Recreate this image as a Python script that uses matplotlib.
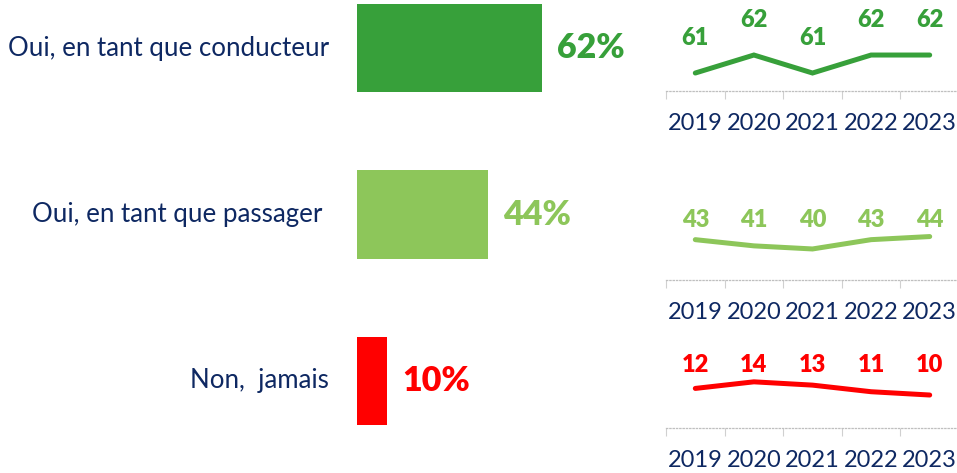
import matplotlib.pyplot as plt

plt.rcParams['font.family'] = ['Lato', 'DejaVu Sans']

# Données
categories = ["Oui, en tant que conducteur", "Oui, en tant que passager ", "Non,  jamais"]
current = [62, 44, 10]
years = ["2019", "2020", "2021", "2022", "2023"]
conducteur = [61, 62, 61, 62, 62]
passager = [43, 41, 40, 43, 44]
jamais = [12, 14, 13, 11, 10]

colors = ["#37A03A", "#8DC65A", "#FF0000"]
navy = "#0E2862"

W, H = 957, 473
fig = plt.figure(figsize=(W / 100, H / 100), dpi=100)


def rect(left, top, width, height):
    # coordonnées en pixels -> fraction de figure
    return [left / W, 1 - (top + height) / H, width / W, height / H]


# Barres à gauche
ax = fig.add_axes(rect(357, -35, 300, 499))
ax.barh(range(len(current)), current, height=0.53, color=colors)
ax.set_xlim(0, 300 / 2.98)
ax.set_ylim(len(current) - 0.5, -0.5)
ax.axis('off')

for i, (cat, val) in enumerate(zip(categories, current)):
    ax.annotate(cat, (0, i), xytext=(-20, 0), textcoords='offset points',
                ha='right', va='center', fontsize=18.6, color=navy)
    ax.annotate(f"{val}%", (val, i), xytext=(11, 0), textcoords='offset points',
                ha='left', va='center', fontsize=24.5, fontweight='heavy', color=colors[i])

# Petites courbes à droite
series = [conducteur, passager, jamais]
boxes = [(0, 91), (190, 90), (335, 93)]
ylims = [(60, 65.06), (30, 59.0), (0, 28.2)]
label_y = [None, 0.667, 0.677]

for k, vals in enumerate(series):
    top, h = boxes[k]
    a = fig.add_axes(rect(666, top, 293, h))
    x = list(range(len(vals)))
    a.plot(x, vals, color=colors[k], lw=3.6, solid_capstyle='round', solid_joinstyle='miter')
    a.set_xlim(-0.5, len(vals) - 0.5)
    a.set_ylim(*ylims[k])
    for s in ['top', 'right', 'left']:
        a.spines[s].set_visible(False)
    a.spines['bottom'].set_color('#BFBFBF')
    a.spines['bottom'].set_linestyle(':')
    a.spines['bottom'].set_linewidth(0.9)
    a.set_yticks([])
    a.set_xticks([i - 0.5 for i in range(len(vals) + 1)])
    a.set_xticklabels([])
    a.tick_params(axis='x', which='major', length=6, width=0.8, color='#D0D0D0')
    a.set_xticks(x, minor=True)
    a.set_xticklabels(years, minor=True)
    a.tick_params(axis='x', which='minor', length=0, pad=16, labelsize=17, labelcolor=navy)

    for i, v in enumerate(vals):
        if label_y[k] is None:
            a.annotate(str(v), (i, v), xytext=(0, 25), textcoords='offset points',
                       ha='center', va='center', fontsize=17, fontweight='heavy', color=colors[k])
        else:
            a.annotate(str(v), (i, label_y[k]), xycoords=('data', 'axes fraction'),
                       ha='center', va='center', fontsize=17, fontweight='heavy', color=colors[k])

fig.savefig("out.png", dpi=100)
